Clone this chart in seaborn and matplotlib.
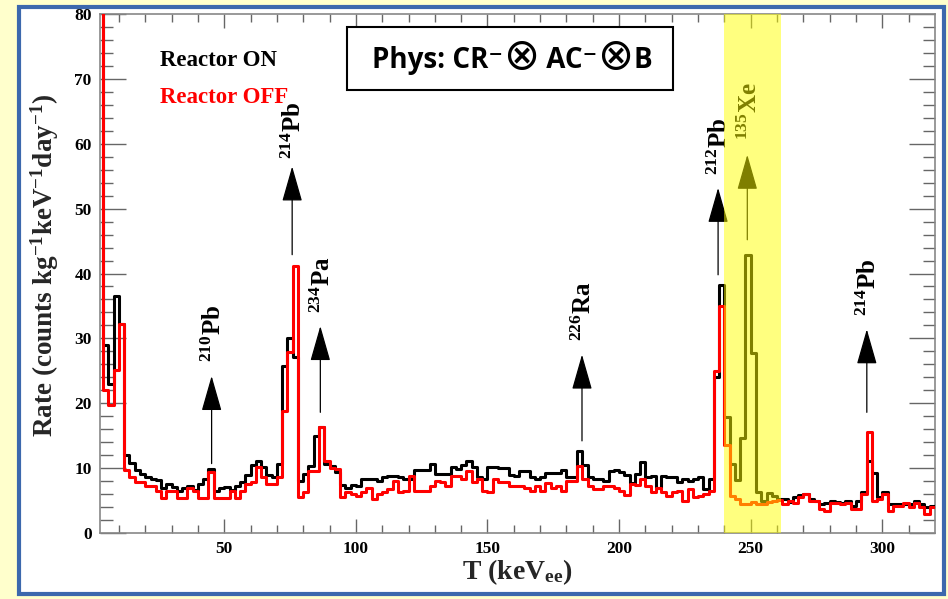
import numpy as np
import pandas as pd
import seaborn as sns
import matplotlib.pyplot as plt
from matplotlib.patches import Rectangle

sns.set_style('ticks')
plt.rcParams['font.family'] = ['Liberation Serif', 'DejaVu Serif']
plt.rcParams['font.weight'] = 'bold'
plt.rcParams['text.color'] = 'black'
plt.rcParams['mathtext.fontset'] = 'custom'
plt.rcParams['mathtext.rm'] = 'Liberation Serif:bold'
plt.rcParams['mathtext.it'] = 'Liberation Serif:bold'
plt.rcParams['mathtext.bf'] = 'Liberation Serif:bold'

# 2 keV bins from 2 to 320 keV
bin_lo, bin_hi, bin_w = 2, 320, 2

rate_on = [85, 29.0, 23.0, 36.6, 32.2, 12.1, 10.8, 9.7, 9.1, 8.6,
           8.3, 8.1, 7.0, 7.5, 7.1, 6.5, 7.0, 7.2, 6.7, 7.5,
           8.3, 9.9, 6.4, 7.0, 7.1, 6.7, 7.2, 7.9, 8.9, 10.5,
           11.1, 10.2, 8.9, 8.7, 10.6, 25.8, 30.1, 27.1, 8.0, 9.1,
           10.3, 15.0, 16.3, 10.6, 10.3, 9.4, 7.4, 7.0, 7.4, 7.2,
           8.3, 8.3, 8.3, 8.0, 8.6, 8.8, 8.8, 8.6, 8.3, 8.3,
           9.75, 9.75, 9.75, 10.6, 9.1, 9.1, 9.1, 10.1, 9.8, 10.5,
           11.1, 10.1, 8.6, 8.3, 10.1, 10.1, 10.0, 10.0, 9.0, 8.8,
           9.6, 9.6, 8.6, 8.4, 8.7, 9.2, 9.2, 9.3, 9.75, 8.6,
           8.6, 12.7, 10.5, 8.6, 8.3, 8.3, 8.0, 9.6, 9.75, 9.4,
           8.9, 7.7, 9.1, 10.9, 8.6, 8.8, 7.0, 8.8, 8.6, 8.6,
           7.8, 8.3, 8.0, 8.3, 8.6, 6.8, 8.3, 24.0, 38.2, 17.9,
           10.6, 8.1, 14.6, 42.8, 27.7, 6.3, 5.0, 6.2, 5.7, 5.2,
           5.2, 4.8, 5.5, 5.8, 6.0, 5.2, 5.0, 4.5, 4.7, 5.0,
           4.8, 4.7, 5.0, 4.2, 5.0, 6.3, 11.1, 9.3, 5.5, 6.3,
           4.5, 4.5, 4.5, 4.5, 4.5, 5.0, 4.5, 4.0, 4.2]

rate_off = [85, 22.1, 19.8, 25.2, 32.2, 9.7, 8.7, 7.9, 7.8, 7.2,
            7.2, 6.5, 5.4, 6.4, 6.4, 5.4, 5.4, 7.0, 6.4, 5.4,
            5.4, 9.4, 5.4, 5.4, 5.4, 6.4, 5.4, 6.4, 7.5, 7.8,
            10.2, 8.6, 7.5, 7.5, 8.6, 18.8, 27.9, 41.1, 5.5, 6.3,
            9.6, 9.6, 16.3, 11.1, 10.0, 9.8, 5.6, 6.3, 6.0, 5.65,
            6.3, 7.0, 5.3, 6.0, 6.3, 6.8, 8.0, 6.3, 6.5, 8.8,
            6.5, 6.5, 6.5, 7.3, 8.0, 7.8, 7.3, 8.8, 8.8, 8.3,
            9.6, 7.8, 8.3, 6.5, 6.3, 8.3, 7.8, 7.8, 7.2, 7.3,
            7.2, 6.9, 6.5, 7.2, 6.5, 7.7, 7.0, 7.2, 6.5, 8.0,
            8.0, 10.3, 8.4, 7.2, 6.8, 6.8, 7.3, 7.3, 7.0, 6.5,
            5.9, 7.5, 7.4, 8.4, 7.2, 6.3, 7.0, 6.3, 5.7, 6.3,
            6.5, 5.0, 6.8, 5.5, 5.7, 6.0, 6.5, 25.0, 35.0, 13.5,
            5.7, 5.2, 4.5, 4.5, 4.8, 4.5, 4.5, 4.8, 5.0, 5.1,
            4.5, 5.0, 4.6, 5.5, 6.0, 5.0, 5.0, 3.7, 3.4, 4.7,
            4.6, 4.5, 4.7, 3.7, 3.7, 6.0, 15.6, 5.0, 5.2, 6.0,
            3.4, 4.2, 4.2, 4.7, 4.0, 4.7, 4.0, 2.9, 4.0]

peak_labels = [r'$^{210}$Pb', r'$^{214}$Pb', r'$^{234}$Pa', r'$^{226}$Ra',
               r'$^{212}$Pb', r'$^{135}$Xe', r'$^{214}$Pb']
peak_energy = [45.2, 75.8, 86.5, 185.9, 237.6, 248.7, 294.1]

xe_window = (240, 261.5)

edges = list(range(bin_lo, bin_hi + bin_w, bin_w))
centers = [e + bin_w / 2 for e in edges[:-1]]
assert len(rate_on) == len(centers) and len(rate_off) == len(centers)
spec = pd.DataFrame({'T': centers, 'on': rate_on, 'off': rate_off})

fig = plt.figure(figsize=(9.48, 5.99), dpi=100, facecolor='#ffffcc')
# white panel with blue frame
fig.patches.append(Rectangle((19 / 948, 1 - 594 / 599), 925 / 948, 587 / 599,
                             transform=fig.transFigure, facecolor='white',
                             edgecolor='#3c68ad', linewidth=3, zorder=-5))
ax = fig.add_axes([100 / 948, 1 - 533 / 599, 835 / 948, 519 / 599])
ax.set_facecolor('none')

sns.histplot(data=spec, x='T', weights='on', bins=edges, element='step', fill=False,
             color='black', linewidth=2.2, ax=ax, zorder=3)
sns.histplot(data=spec, x='T', weights='off', bins=edges, element='step', fill=False,
             color='red', linewidth=2.2, ax=ax, zorder=4)

ax.set_xlim(2.8, 320)
ax.set_ylim(0, 80)
ax.set_xticks([50, 100, 150, 200, 250, 300])
ax.set_xticks(np.arange(10, 320, 10), minor=True)
ax.set_yticks(np.arange(0, 81, 10))
ax.set_yticks(np.arange(0, 81, 2), minor=True)
ax.tick_params(axis='both', which='both', direction='in', top=True, right=True,
               colors='#666666', labelcolor='black', labelsize=12.5, width=1)
ax.tick_params(axis='x', which='major', length=10, pad=6)
ax.tick_params(axis='x', which='minor', length=5.5)
ax.tick_params(axis='y', which='major', length=18.5, pad=6)
ax.tick_params(axis='y', which='minor', length=9)
for s in ax.spines.values():
    s.set_color('#888888')
    s.set_linewidth(1.2)
for lab in ax.get_xticklabels() + ax.get_yticklabels():
    lab.set_fontweight('bold')

ax.set_xlabel(r'T (keV$_{ee}$)', fontsize=20, fontweight='bold', labelpad=0)
ax.set_ylabel(r'Rate (counts kg$^{-1}$keV$^{-1}$day$^{-1}$)', fontsize=19.5,
              fontweight='bold')
ax.yaxis.set_label_coords(-0.047, 0.516)

# peak arrows: (tail, tip) heights and label base height
arrow_tail = [10.7, 42.9, 18.6, 14.2, 39.8, 45.2, 18.6]
arrow_tip = [24.2, 56.5, 31.9, 27.5, 53.2, 58.3, 31.4]
label_base = [26.4, 57.6, 33.9, 29.6, 55.2, 60.6, 33.4]
for lab, e, t0, t1, lb in zip(peak_labels, peak_energy, arrow_tail, arrow_tip, label_base):
    ax.annotate('', xy=(e, t1), xytext=(e, t0),
                arrowprops=dict(arrowstyle='-|>,head_length=1.12,head_width=0.32',
                                color='black', lw=0.9, mutation_scale=20,
                                shrinkA=0, shrinkB=0), zorder=5)
    ax.text(e + 0.8, lb, lab, rotation=90, ha='center', va='bottom',
            fontsize=18, fontweight='bold', zorder=5)

ax.axvspan(*xe_window, color=(1, 1, 0), alpha=0.5, lw=0, zorder=10)

ax.text(0.072, 0.911, 'Reactor ON', transform=ax.transAxes, fontsize=16.5,
        fontweight='bold', color='black', va='center')
ax.text(0.072, 0.840, 'Reactor OFF', transform=ax.transAxes, fontsize=16.5,
        fontweight='bold', color='red', va='center')

# selection box in the top middle
box = Rectangle((347 / 948, 1 - 90 / 599), 326 / 948, 63 / 599,
                transform=fig.transFigure, facecolor='white', edgecolor='black',
                linewidth=1.5, clip_on=False, zorder=20)
ax.add_patch(box)
sans = ['Open Sans', 'DejaVu Sans']
pieces = [('Phys: CR\u207b', sans, 20, 'bold'), ('\u2297', ['DejaVu Sans'], 31, 'normal'),
          (' AC\u207b', sans, 20, 'bold'), ('\u2297', ['DejaVu Sans'], 31, 'normal'),
          ('B', sans, 20, 'bold')]
prev = ax.text(372 / 948, 1 - 75 / 599, pieces[0][0], transform=fig.transFigure,
               family=pieces[0][1], fontsize=pieces[0][2], fontweight=pieces[0][3],
               ha='left', va='bottom', zorder=21)
for txt, fam, fs, fw in pieces[1:]:
    prev = ax.annotate(txt, xy=(1, 0), xycoords=prev, ha='left', va='bottom',
                       xytext=(0, -2 if fs > 25 else 2), textcoords='offset points',
                       family=fam, fontsize=fs, fontweight=fw, zorder=21,
                       annotation_clip=False)

fig.savefig('out.png', dpi=100, facecolor=fig.get_facecolor())
